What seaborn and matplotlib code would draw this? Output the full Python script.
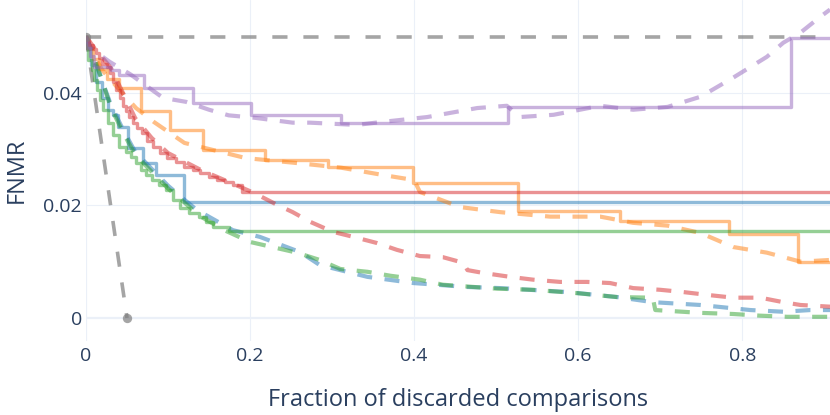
import matplotlib
matplotlib.use("Agg")
import matplotlib.pyplot as plt
import seaborn as sns

# ---- data ----
# solid curves are steps: y[i] holds over (x[i-1], x[i]]
blue_x = [0, 0.006, 0.012, 0.02, 0.027, 0.033, 0.039, 0.051, 0.07, 0.085, 0.12, 0.907]
blue_y = [0.05, 0.048, 0.045, 0.042, 0.039, 0.037, 0.0361, 0.034, 0.0302, 0.0276, 0.0254, 0.0206]
blue_dash_x = [0, 0.01, 0.02, 0.03, 0.045, 0.06, 0.08, 0.1, 0.12, 0.135, 0.179, 0.212, 0.261,
               0.285, 0.343, 0.399, 0.465, 0.505, 0.587, 0.648, 0.691, 0.749, 0.81, 0.85, 0.883, 0.907]
blue_dash_y = [0.05, 0.0465, 0.042, 0.038, 0.0335, 0.0295, 0.0265, 0.0235, 0.021, 0.0192, 0.0156, 0.0144, 0.0117,
               0.0094, 0.0073, 0.0062, 0.0055, 0.0053, 0.0046, 0.0037, 0.0028, 0.0023, 0.0014, 0.0011, 0.0014, 0.0014]

orange_x = [0, 0.008, 0.016, 0.025, 0.04, 0.067, 0.102, 0.143, 0.218, 0.295, 0.399, 0.527, 0.651, 0.784, 0.868, 0.907]
orange_y = [0.05, 0.048, 0.046, 0.0443, 0.0425, 0.0409, 0.0368, 0.0334, 0.0299, 0.0281, 0.0268, 0.024, 0.019,
            0.0172, 0.0149, 0.01]
orange_dash_x = [0, 0.005, 0.01, 0.02, 0.041, 0.061, 0.083, 0.12, 0.195, 0.252, 0.311, 0.362, 0.4, 0.407, 0.456,
                 0.505, 0.566, 0.627, 0.667, 0.709, 0.749, 0.789, 0.83, 0.871, 0.907]
orange_dash_y = [0.05, 0.048, 0.0465, 0.044, 0.0405, 0.0373, 0.0348, 0.0311, 0.0284, 0.0276, 0.0267, 0.0254,
                 0.0245, 0.0224, 0.0197, 0.0188, 0.018, 0.018, 0.0169, 0.0164, 0.0151, 0.0126, 0.0116, 0.01, 0.0103]

green_x = [0, 0.003, 0.007, 0.01, 0.013, 0.017, 0.021, 0.027, 0.033, 0.04, 0.049, 0.055, 0.061, 0.067, 0.073,
           0.081, 0.089, 0.098, 0.106, 0.115, 0.126, 0.138, 0.146, 0.155, 0.174, 0.179, 0.907]
green_y = [0.05, 0.048, 0.0459, 0.0441, 0.0423, 0.0405, 0.0388, 0.037, 0.0347, 0.0325, 0.0304, 0.0295, 0.0286,
           0.0275, 0.0263, 0.0254, 0.0245, 0.0236, 0.0228, 0.021, 0.0196, 0.0187, 0.0179, 0.0171, 0.0162, 0.0155,
           0.0155]
green_dash_x = [0, 0.01, 0.02, 0.03, 0.045, 0.06, 0.08, 0.1, 0.12, 0.14, 0.17, 0.2, 0.233, 0.257, 0.285, 0.31,
                0.343, 0.371, 0.407, 0.435, 0.501, 0.545, 0.599, 0.648, 0.691, 0.694, 0.716, 0.749, 0.789,
                0.822, 0.855, 0.907]
green_dash_y = [0.05, 0.046, 0.042, 0.0375, 0.033, 0.029, 0.026, 0.023, 0.0205, 0.018, 0.0155, 0.0135, 0.0124, 0.0116,
                0.0103, 0.0087, 0.0082, 0.0075, 0.0068, 0.0059, 0.0052, 0.005, 0.0044, 0.0037, 0.0036, 0.0014,
                0.0012, 0.0009, 0.0007, 0.0004, 0.0002, 0.0002]

red_x = [0, 0.004, 0.008, 0.012, 0.016, 0.02, 0.025, 0.029, 0.033, 0.037, 0.041, 0.045, 0.049, 0.053, 0.057,
         0.062, 0.068, 0.074, 0.082, 0.09, 0.099, 0.11, 0.12, 0.13, 0.139, 0.15, 0.16, 0.17, 0.179, 0.19,
         0.203, 0.907]
red_y = [0.05, 0.0494, 0.0485, 0.0478, 0.047, 0.0462, 0.0452, 0.0446, 0.0435, 0.042, 0.0405, 0.039, 0.0377,
         0.0367, 0.0357, 0.0347, 0.0337, 0.0328, 0.0315, 0.0303, 0.0293, 0.0285, 0.0277, 0.0269, 0.0263,
         0.0257, 0.0251, 0.0246, 0.0242, 0.0237, 0.0224, 0.0224]
red_dash_x = [0, 0.01, 0.03, 0.045, 0.06, 0.08, 0.1, 0.14, 0.18, 0.205, 0.233, 0.252, 0.273, 0.301, 0.326,
              0.355, 0.379, 0.407, 0.435, 0.46, 0.465, 0.484, 0.517, 0.545, 0.578, 0.611, 0.639, 0.667, 0.7,
              0.728, 0.757, 0.789, 0.822, 0.85, 0.871, 0.907]
red_dash_y = [0.05, 0.048, 0.0445, 0.04, 0.0355, 0.032, 0.0293, 0.0263, 0.0238, 0.0222, 0.0201, 0.0188,
              0.0171, 0.0153, 0.0144, 0.0133, 0.0121, 0.011, 0.0108, 0.0098, 0.0085, 0.008, 0.0073, 0.0068,
              0.0064, 0.0064, 0.0062, 0.0053, 0.005, 0.0046, 0.0041, 0.0036, 0.0036, 0.0028, 0.0023, 0.002]

purple_x = [0, 0.005, 0.01, 0.03, 0.04, 0.071, 0.13, 0.201, 0.311, 0.515, 0.859, 0.907]
purple_y = [0.05, 0.048, 0.0465, 0.0446, 0.044, 0.0432, 0.0409, 0.0382, 0.0361, 0.0347, 0.0375, 0.0498]
purple_dash_x = [0, 0.005, 0.029, 0.054, 0.094, 0.122, 0.15, 0.174, 0.204, 0.252, 0.273, 0.33, 0.359, 0.416,
                 0.477, 0.513, 0.529, 0.57, 0.627, 0.667, 0.709, 0.749, 0.789, 0.83, 0.85, 0.871, 0.895, 0.907]
purple_dash_y = [0.05, 0.048, 0.0455, 0.0433, 0.0391, 0.0384, 0.037, 0.036, 0.0356, 0.0347, 0.0347, 0.0343,
                 0.0348, 0.0357, 0.0373, 0.0377, 0.0357, 0.0361, 0.0377, 0.037, 0.0375, 0.0393, 0.0427, 0.0464,
                 0.0489, 0.0507, 0.0535, 0.0548]

ref_x = [0, 0.907]
ref_y = [0.05, 0.05]
oracle_x = [0, 0.05]
oracle_y = [0.05, 0.0]

xticks = [0, 0.2, 0.4, 0.6, 0.8]
xtick_labels = ["0", "0.2", "0.4", "0.6", "0.8"]
yticks = [0, 0.02, 0.04]
ytick_labels = ["0", "0.02", "0.04"]

# ---- plot ----
sns.set_style("white")
plt.rcParams["font.family"] = ["Open Sans", "DejaVu Sans"]
text_col = "#2a3f5f"
grid_col = "#EBF0F8"

fig = plt.figure(figsize=(8.3, 4.15), dpi=100)
ax = fig.add_axes([86 / 830, 74 / 415, 744 / 830, 341 / 415])

for v in xticks[1:]:
    ax.axvline(v, color=grid_col, lw=0.8, zorder=0)
for v in yticks[1:]:
    ax.axhline(v, color=grid_col, lw=0.8, zorder=0)
ax.axvline(0, color=grid_col, lw=1.6, zorder=0)
ax.axhline(0, color=grid_col, lw=1.6, zorder=0)

gray_dash = (0, (4.2, 4.4))
col_dash = (0, (3.6, 3.0))

sns.lineplot(x=ref_x, y=ref_y, ax=ax, color="#7f7f7f", alpha=0.7, lw=2.6,
             linestyle=gray_dash, sort=False, estimator=None)
sns.lineplot(x=oracle_x, y=oracle_y, ax=ax, color="#7f7f7f", alpha=0.7, lw=2.6,
             linestyle=gray_dash, sort=False, estimator=None)
ax.scatter(oracle_x, oracle_y, color="#7f7f7f", alpha=0.7, s=45, lw=0, zorder=3)

series = [
    ("#1f77b4", blue_x, blue_y, blue_dash_x, blue_dash_y),
    ("#ff7f0e", orange_x, orange_y, orange_dash_x, orange_dash_y),
    ("#2ca02c", green_x, green_y, green_dash_x, green_dash_y),
    ("#d62728", red_x, red_y, red_dash_x, red_dash_y),
    ("#9467bd", purple_x, purple_y, purple_dash_x, purple_dash_y),
]
for col, sx, sy, dx, dy in series:
    sns.lineplot(x=sx, y=sy, ax=ax, color=col, alpha=0.5, lw=2.4,
                 drawstyle="steps-pre", sort=False, estimator=None)
    sns.lineplot(x=dx, y=dy, ax=ax, color=col, alpha=0.5, lw=3.0,
                 linestyle=col_dash, sort=False, estimator=None)

ax.set_xlim(0, 0.907)
ax.set_ylim(-0.0041, 0.0565)
ax.set_xticks(xticks)
ax.set_xticklabels(xtick_labels)
ax.set_yticks(yticks)
ax.set_yticklabels(ytick_labels)
ax.tick_params(length=0, labelsize=14, colors=text_col)
ax.tick_params(axis="x", pad=4)
ax.tick_params(axis="y", pad=3)
for s in ax.spines.values():
    s.set_visible(False)

ax.set_xlabel("Fraction of discarded comparisons", fontsize=17, color=text_col)
ax.xaxis.set_label_coords(0.5, (341 - 400) / 341)
ax.xaxis.label.set_va("center")
ax.set_ylabel("FNMR", fontsize=17, color=text_col)
ax.yaxis.set_label_coords((17 - 86) / 744, (341 - 170) / 341)
ax.yaxis.label.set_va("center")

fig.savefig("out.png", dpi=100)
